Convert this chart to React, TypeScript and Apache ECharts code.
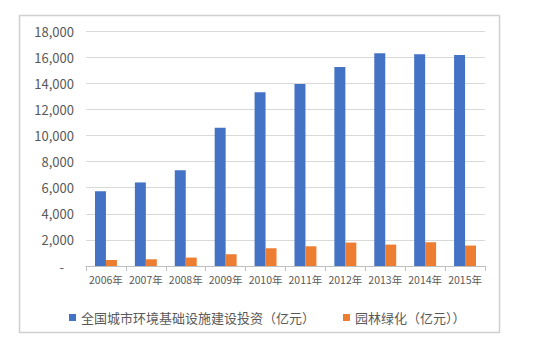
import React, { useEffect, useRef } from "react";
import * as echarts from "echarts";

const categories = ["2006年", "2007年", "2008年", "2009年", "2010年", "2011年", "2012年", "2013年", "2014年", "2015年"];
const investment = [5730, 6400, 7340, 10590, 13300, 13940, 15240, 16290, 16210, 16160];
const greening = [460, 515, 645, 900, 1360, 1510, 1795, 1640, 1820, 1565];
const seriesNames = ["全国城市环境基础设施建设投资（亿元）", "园林绿化（亿元））"];

export default function App() {
  const ref = useRef<HTMLDivElement>(null);
  useEffect(() => {
    document.body.style.margin = "0";
    const chart = echarts.init(ref.current!, null, { renderer: "svg" });
    const font = '"Noto Sans CJK SC", "Noto Sans", sans-serif';
    chart.setOption({
      animation: false,
      backgroundColor: "#ffffff",
      textStyle: { fontFamily: font },
      graphic: [
        {
          type: "rect",
          shape: { x: 19.5, y: 15.5, width: 480, height: 317 },
          style: { fill: "none", stroke: "#d0d0d0", lineWidth: 1.5 },
          silent: true,
        },
      ],
      grid: { left: 86, right: 58, top: 31, bottom: 93, containLabel: false },
      legend: {
        left: 64,
        top: 306,
        itemWidth: 7,
        itemHeight: 7,
        itemGap: 28,
        icon: "rect",
        textStyle: { fontSize: 13, color: "#595959", fontFamily: font },
        data: seriesNames,
      },
      xAxis: {
        type: "category",
        data: categories,
        axisLine: { lineStyle: { color: "#bfbfbf", width: 1 } },
        axisTick: { show: true, length: 5, lineStyle: { color: "#bfbfbf" } },
        axisLabel: { color: "#595959", fontSize: 10.5, margin: 8, interval: 0, fontFamily: font },
      },
      yAxis: {
        type: "value",
        min: 0,
        max: 18000,
        interval: 2000,
        axisLine: { show: false },
        axisTick: { show: false },
        splitLine: { lineStyle: { color: "#d9d9d9", width: 1 } },
        axisLabel: {
          color: "#595959",
          fontSize: 13,
          margin: 12,
          fontFamily: font,
          formatter: (v: number) => (v === 0 ? "{d|-}" : v.toLocaleString("en-US")),
          rich: { d: { padding: [0, 10, 0, 0], fontSize: 13, color: "#595959" } },
        },
      },
      series: [
        {
          name: seriesNames[0],
          type: "bar",
          data: investment,
          barGap: "0%",
          barCategoryGap: "45%",
          itemStyle: { color: "#4472C4" },
        },
        {
          name: seriesNames[1],
          type: "bar",
          data: greening,
          itemStyle: { color: "#ED7D31" },
        },
      ],
    });
    return () => chart.dispose();
  }, []);
  return <div ref={ref} style={{ position: "fixed", left: 0, top: 0, width: 543, height: 359 }} />;
}
